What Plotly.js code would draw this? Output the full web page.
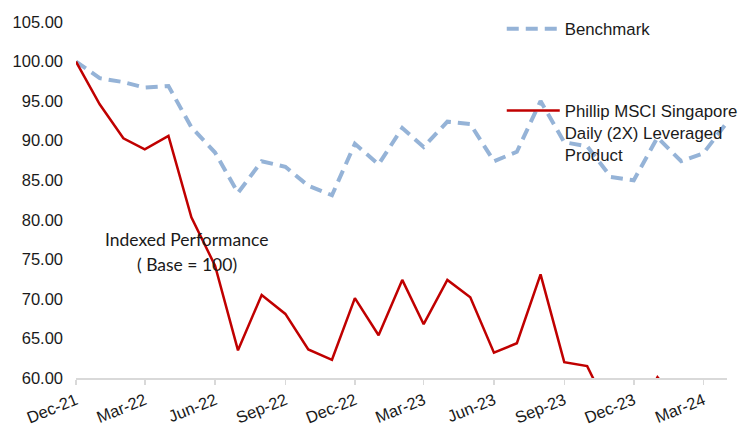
<!DOCTYPE html>
<html>
<head>
<meta charset="utf-8">
<script src="https://cdn.plot.ly/plotly-3.0.1.min.js"></script>
<style>
html,body{margin:0;padding:0;background:#fff;}
#chart{width:743px;height:428px;}
</style>
</head>
<body>
<div id="chart"></div>
<script>
const months = [
  '2021-12-01','2022-01-01','2022-02-01','2022-03-01','2022-04-01','2022-05-01','2022-06-01',
  '2022-07-01','2022-08-01','2022-09-01','2022-10-01','2022-11-01','2022-12-01',
  '2023-01-01','2023-02-01','2023-03-01','2023-04-01','2023-05-01','2023-06-01',
  '2023-07-01','2023-08-01','2023-09-01','2023-10-01','2023-11-01','2023-12-01',
  '2024-01-01','2024-02-01','2024-03-01','2024-04-01'
];
const benchmark = [
  100.0, 97.9, 97.4, 96.7, 96.9, 91.7, 88.5,
  83.4, 87.4, 86.7, 84.3, 83.1, 89.6,
  87.0, 91.6, 89.2, 92.4, 92.1, 87.4,
  88.6, 95.0, 89.8, 89.3, 85.4, 85.0,
  90.4, 87.4, 88.4, 92.3
];
const leveraged = [
  100.0, 94.6, 90.3, 88.9, 90.6, 80.3, 74.2,
  63.5, 70.5, 68.1, 63.6, 62.3, 70.1,
  65.4, 72.4, 66.8, 72.4, 70.2, 63.2,
  64.4, 73.1, 62.0, 61.5, 55.4, 54.5,
  60.1, 56.5, 57.0, 58.0
];
const seriesNames = ['Benchmark', 'Phillip MSCI Singapore<br>Daily (2X) Leveraged<br>Product'];
const noteLines = ['Indexed Performance', '( Base = 100)'];

const traces = [
  {
    x: months, y: benchmark, name: seriesNames[0], type: 'scatter', mode: 'lines',
    legendgroup: 'a',
    line: {color: '#95B3D7', width: 4, dash: '12px,7px'}
  },
  {
    x: months, y: leveraged, name: seriesNames[1], type: 'scatter', mode: 'lines',
    legendgroup: 'b',
    line: {color: '#C00000', width: 2.5}
  }
];

const layout = {
  width: 743, height: 428,
  margin: {l: 76, r: 16, t: 22, b: 50, autoexpand: false},
  paper_bgcolor: '#ffffff', plot_bgcolor: '#ffffff',
  font: {family: 'Liberation Sans, Arial, sans-serif', size: 16, color: '#1a1a1a'},
  showlegend: true,
  legend: {
    x: 0.654, y: 1.03, xanchor: 'left', yanchor: 'top',
    bgcolor: 'rgba(0,0,0,0)', traceorder: 'grouped', tracegroupgap: 57,
    valign: 'top', itemwidth: 53,
    font: {family: 'Liberation Sans, Arial, sans-serif', size: 16.8, color: '#1a1a1a'}
  },
  xaxis: {
    type: 'date',
    range: ['2021-12-01', '2024-04-01'],
    tick0: '2021-12-01', dtick: 'M3', tickformat: '%b-%y',
    tickangle: -22,
    showgrid: false, zeroline: false,
    showline: true, linecolor: '#d9d9d9', linewidth: 1.5,
    ticks: 'outside', ticklen: 5, tickcolor: '#d9d9d9', tickwidth: 1.5,
    tickfont: {family: 'Liberation Sans, Arial, sans-serif', size: 16.5, color: '#1a1a1a'},
    fixedrange: true
  },
  yaxis: {
    range: [60, 105], dtick: 5, tick0: 60,
    tickformat: '.2f',
    showgrid: false, zeroline: false, showline: false,
    ticks: '', ticklabelstandoff: 12,
    tickfont: {family: 'Liberation Sans, Arial, sans-serif', size: 16.5, color: '#1a1a1a'},
    fixedrange: true
  },
  annotations: [
    {xref: 'paper', yref: 'paper', x: 0.1705, y: 0.388, text: noteLines[0], showarrow: false,
     xanchor: 'center', yanchor: 'middle', font: {family: 'Lato, sans-serif', size: 17.5, color: '#1a1a1a'}},
    {xref: 'paper', yref: 'paper', x: 0.1705, y: 0.318, text: noteLines[1], showarrow: false,
     xanchor: 'center', yanchor: 'middle', font: {family: 'Lato, sans-serif', size: 17.5, color: '#1a1a1a'}}
  ]
};

Plotly.newPlot('chart', traces, layout, {displayModeBar: false, staticPlot: true});
</script>
</body>
</html>
